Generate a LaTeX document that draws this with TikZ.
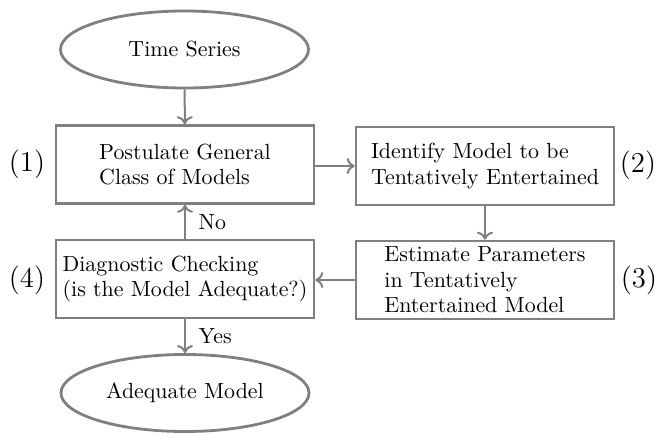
\documentclass[tikz,border=0pt]{standalone}
\usetikzlibrary{shapes.geometric,arrows.meta}
\begin{document}
\begin{tikzpicture}[x=0.5pt,y=-0.5pt,
  every node/.style={font=\fontsize{10.95}{12.8}\selectfont},
  procbox/.style={draw=gray, line width=1.3pt, rectangle, minimum width=129pt, minimum height=39pt, align=left, inner sep=0pt},
  termnode/.style={draw=gray, line width=1.4pt, ellipse, minimum width=124pt, minimum height=38.5pt, inner sep=0pt},
  flow/.style={draw=gray, line width=1pt, -{To[length=4pt,width=8pt]}},
  steplabel/.style={inner sep=0pt, font=\fontsize{14.4}{16}\selectfont}]
\useasboundingbox (0,0) rectangle (665,434);
\node[termnode] (ts) at (184.5,49.5) {Time Series};
\node[procbox] (b1) at (185,164.5) {Postulate General\\Class of Models};
\node[procbox] (b2) at (485,166) {Identify Model to be\\Tentatively Entertained};
\node[procbox] (b3) at (485,280) {Estimate Parameters\\in Tentatively\\Entertained Model};
\node[procbox] (b4) at (185,279) {Diagnostic Checking\\(is the Model Adequate?)};
\node[termnode] (am) at (185,393) {Adequate Model};
\node[steplabel] (l1) at (27,164) {(1)};
\node[steplabel] (l2) at (638,165) {(2)};
\node[steplabel] (l3) at (639,280) {(3)};
\node[steplabel] (l4) at (27,280) {(4)};
\draw[flow] (ts) -- (b1);
\draw[flow] (b1.east |- b2.west) -- (b2.west);
\draw[flow] (b2) -- (b3);
\draw[flow] (b3.west) -- (b3.west -| b4.east);
\draw[flow] (b4) -- node[right=3pt] {No} (b1);
\draw[flow] (b4) -- node[right=3pt] {Yes} (am);
\end{tikzpicture}
\end{document}
